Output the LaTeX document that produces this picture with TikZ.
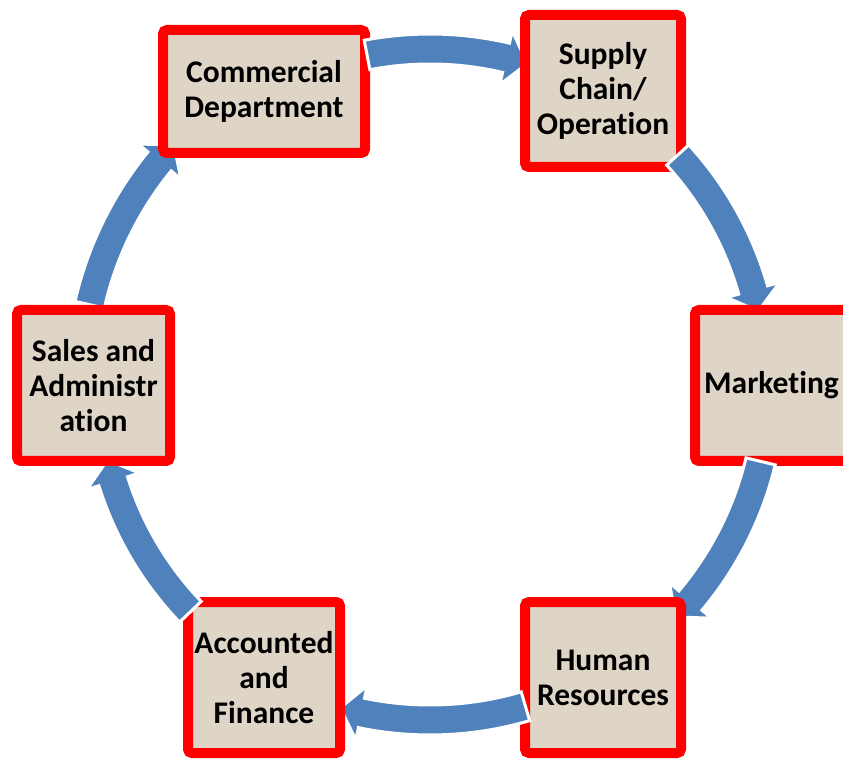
\documentclass[tikz,border=0pt]{standalone}
\usepackage{fontspec}
\setmainfont{Carlito}[Ligatures=CommonOff]
\usepackage{tikz}
\usetikzlibrary{calc}
\definecolor{deptred}{RGB}{255,0,0}
\definecolor{deptfill}{RGB}{222,213,198}
\definecolor{cycleblue}{RGB}{79,129,189}
\tikzset{
  dept/.style={rectangle, draw=deptred, fill=deptfill, line width=10pt,
    rounded corners=4pt, inner sep=0pt, outer sep=0pt, align=center,
    font=\bfseries\fontsize{31.5}{35}\selectfont},
  cyclearrow/.style={fill=cycleblue, draw=white, line width=3pt, line join=miter}
}
% radius, tail angle, head base angle, tip angle (around the hub)
\newcommand{\cyclearrow}[4]{%
  \filldraw[cyclearrow] ($(hub)+({#2}:{#1+15})$)
    arc[start angle=#2, end angle=#3, radius=#1+15]
    -- ($(hub)+({#3}:{#1+27.5})$) -- ($(hub)+({#4}:{#1})$)
    -- ($(hub)+({#3}:{#1-27.5})$) -- ($(hub)+({#3}:{#1-15})$)
    arc[start angle=#3, end angle=#2, radius=#1-15] -- cycle;}

\begin{document}
\begin{tikzpicture}[x=1pt, y=1pt]
  \useasboundingbox (0,0) rectangle (843,758);
  \fill[white] (0,0) rectangle (843,758);
  \coordinate (hub) at (430,376);
  \cyclearrow{349}{167.2}{140.8}{137.2}
  \node[dept, minimum width=202, minimum height=123] (comm) at (264,666.5)
    {Commercial\\Department};
  \cyclearrow{333}{100.9}{76.8}{73.0}
  \node[dept, minimum width=156, minimum height=152] (supply) at (603,667)
    {Supply\\Chain/\\Operation};
  \cyclearrow{336}{42.5}{15.9}{12.2}
  \node[dept, minimum width=153, minimum height=151] (mkt) at (771.5,372.5)
    {Marketing};
  \cyclearrow{340}{-13.5}{-40.0}{-43.7}
  \node[dept, minimum width=156, minimum height=151] (hr) at (603,80.5)
    {Human\\Resources};
  \cyclearrow{338}{-73.6}{-101.7}{-105.4}
  \node[dept, minimum width=152, minimum height=151] (acc) at (264,80.5)
    {Accounted\\and\\Finance};
  \cyclearrow{332}{-136.2}{-162.6}{-166.4}
  \node[dept, minimum width=153, minimum height=151] (sales) at (93.5,372.5)
    {Sales and\\Administr\\ation};
\end{tikzpicture}
\end{document}
